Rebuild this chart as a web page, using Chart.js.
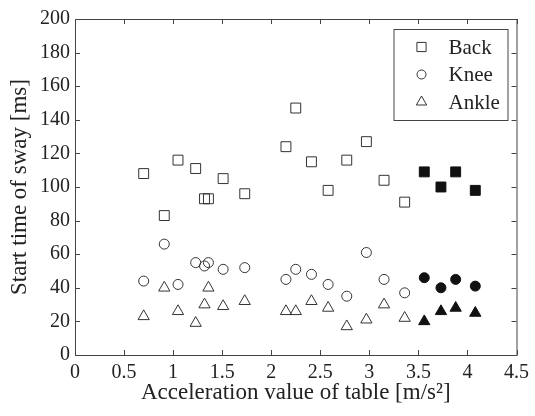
<!DOCTYPE html>
<html>
<head>
<meta charset="utf-8">
<script src="https://cdn.jsdelivr.net/npm/chart.js@4/dist/chart.umd.min.js"></script>
<style>
  html, body { margin: 0; padding: 0; background: #fff; }
</style>
</head>
<body>
<canvas id="swayChart" width="535" height="416"></canvas>
<script>
// acceleration values of the table (open markers), shared by the three series
const openAccel = [0.70, 0.91, 1.05, 1.23, 1.32, 1.36, 1.51, 1.73, 2.15, 2.25, 2.41, 2.58, 2.77, 2.97, 3.15, 3.36];
const backOpen  = [108, 83, 116, 111, 93, 93, 105, 96, 124, 147, 115, 98, 116, 127, 104, 91];
const kneeOpen  = [44, 66, 42, 55, 53, 55, 51, 52, 45, 51, 48, 42, 35, 61, 45, 37];
const ankleOpen = [23, 40, 26, 19, 30, 40, 29, 32, 26, 26, 32, 28, 17, 21, 30, 22];

// filled markers
const filledAccel = [3.56, 3.73, 3.88, 4.08];
const backFilled  = [109, 100, 109, 98];
const kneeFilled  = [46, 40, 45, 41];
const ankleFilled = [20, 26, 28, 25];

const xTicks = [0, 0.5, 1, 1.5, 2, 2.5, 3, 3.5, 4, 4.5];
const yTicks = [0, 20, 40, 60, 80, 100, 120, 140, 160, 180, 200];
const legendLabels = ["Back", "Knee", "Ankle"];
const legendStyles = ["rect", "circle", "triangle"];

const ink = "#333";
const serif = "'Liberation Serif', 'Times New Roman', serif";

function points(xs, ys) {
    return xs.map((x, i) => ({x: x, y: ys[i]}));
}

function series(xs, ys, style, filled) {
    const radius = {rect: 7, circle: 5, triangle: 6.5}[style];
    return {
        data: points(xs, ys),
        pointStyle: style,
        pointRadius: radius,
        pointHoverRadius: radius,
        pointBorderWidth: 1,
        pointBorderColor: filled ? "#111" : ink,
        pointBackgroundColor: filled ? "#111" : "rgba(0,0,0,0)",
        showLine: false,
    };
}

// box round the plot, inward ticks on all four sides, framed legend
const framePlugin = {
    id: "frame",
    afterDraw(chart) {
        const ctx = chart.ctx;
        const a = chart.chartArea;
        const xs = chart.scales.x;
        const ys = chart.scales.y;
        const len = 5;

        ctx.save();
        ctx.strokeStyle = "#444";
        ctx.lineWidth = 1;
        ctx.strokeRect(a.left + 0.5, a.top + 0.5, a.right - a.left, a.bottom - a.top);

        ctx.beginPath();
        xTicks.forEach(v => {
            const px = Math.round(xs.getPixelForValue(v)) + 0.5;
            ctx.moveTo(px, a.bottom);
            ctx.lineTo(px, a.bottom - len);
            ctx.moveTo(px, a.top);
            ctx.lineTo(px, a.top + len);
        });
        yTicks.forEach(v => {
            const py = Math.round(ys.getPixelForValue(v)) + 0.5;
            ctx.moveTo(a.left, py);
            ctx.lineTo(a.left + len, py);
            ctx.moveTo(a.right, py);
            ctx.lineTo(a.right - len, py);
        });
        ctx.stroke();

        // legend
        const bw = 114, bh = 91;
        const bx = a.right - 9 - bw;
        const by = a.top + 10;
        ctx.fillStyle = "#fff";
        ctx.fillRect(bx, by, bw, bh);
        ctx.strokeRect(bx + 0.5, by + 0.5, bw, bh);

        ctx.font = "21px " + serif;
        ctx.textBaseline = "middle";
        ctx.textAlign = "left";
        legendLabels.forEach((label, i) => {
            const cy = by + 18 + i * 27.5;
            ctx.strokeStyle = ink;
            ctx.fillStyle = "rgba(0,0,0,0)";
            Chart.helpers.drawPoint(ctx, {
                pointStyle: legendStyles[i],
                radius: legendStyles[i] === "rect" ? 6.5 : (legendStyles[i] === "circle" ? 4.5 : 6),
                borderWidth: 1,
                rotation: 0,
            }, bx + 28, cy);
            ctx.fillStyle = "#222";
            ctx.fillText(label, bx + 55, cy + 1);
        });
        ctx.restore();
    },
};

new Chart(document.getElementById("swayChart"), {
    type: "scatter",
    data: {
        datasets: [
            series(openAccel, backOpen, "rect", false),
            series(filledAccel, backFilled, "rect", true),
            series(openAccel, kneeOpen, "circle", false),
            series(filledAccel, kneeFilled, "circle", true),
            series(openAccel, ankleOpen, "triangle", false),
            series(filledAccel, ankleFilled, "triangle", true),
        ],
    },
    options: {
        responsive: false,
        animation: false,
        layout: {
            padding: {top: 19, right: 15, left: 0, bottom: 0},
        },
        plugins: {
            legend: {display: false},
            tooltip: {enabled: false},
        },
        scales: {
            x: {
                type: "linear",
                min: 0,
                max: 4.5,
                afterBuildTicks: (s) => {
                    s.ticks = xTicks.map(v => ({value: v}));
                },
                afterFit: (s) => {
                    s.height = 61;
                },
                grid: {display: false, drawTicks: false},
                border: {display: false},
                ticks: {
                    padding: 6,
                    color: "#222",
                    font: {family: serif, size: 20},
                    callback: (v) => String(v),
                    maxRotation: 0,
                },
                title: {
                    display: true,
                    text: "Acceleration value of table [m/s²]",
                    color: "#222",
                    font: {family: serif, size: 23},
                    padding: {top: 0, bottom: 9},
                },
            },
            y: {
                type: "linear",
                min: 0,
                max: 200,
                afterBuildTicks: (s) => {
                    s.ticks = yTicks.map(v => ({value: v}));
                },
                afterFit: (s) => {
                    s.width = 75;
                },
                grid: {display: false, drawTicks: false},
                border: {display: false},
                ticks: {
                    padding: 5,
                    color: "#222",
                    font: {family: serif, size: 20},
                },
                title: {
                    display: true,
                    text: "Start time of sway [ms]",
                    color: "#222",
                    font: {family: serif, size: 23},
                    padding: {top: 6, bottom: 0},
                },
            },
        },
    },
    plugins: [framePlugin],
});
</script>
</body>
</html>
